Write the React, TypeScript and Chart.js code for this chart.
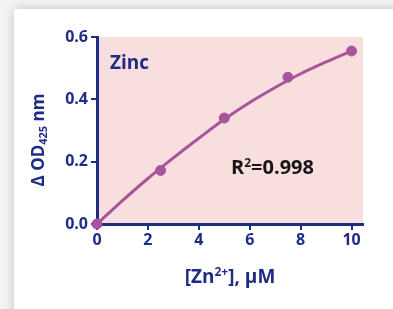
import React, { useEffect, useRef } from "react";
import { Chart, registerables } from "chart.js";

Chart.register(...registerables);

const concentrations = [0, 2.5, 5, 7.5, 10];
const deltaOD = [0, 0.172, 0.34, 0.471, 0.555];
const fitX = [0, 1, 2, 3, 4, 5, 6, 7, 8, 9, 10];
const fitY = [0, 0.075, 0.146, 0.212, 0.275, 0.336, 0.39, 0.438, 0.482, 0.52, 0.555];
const xTicks = [0, 2, 4, 6, 8, 10];
const yTicks = [0, 0.2, 0.4, 0.6];

const NAVY = "#1f2c85";
const PURPLE = "#a8559e";
const PINK = "#f9dede";
const FONT = "'Open Sans', sans-serif";

const decorPlugin = {
  id: "decor",
  beforeDraw(chart: any) {
    const { ctx, chartArea } = chart;
    ctx.save();
    ctx.fillStyle = PINK;
    ctx.fillRect(chartArea.left, chartArea.top, chartArea.right - chartArea.left, chartArea.bottom - chartArea.top);
    ctx.restore();
  },
  afterDraw(chart: any) {
    const { ctx } = chart;
    ctx.save();
    ctx.textBaseline = "alphabetic";
    // Zinc label
    ctx.fillStyle = NAVY;
    ctx.font = `bold 19px ${FONT}`;
    ctx.textAlign = "left";
    ctx.fillText("Zinc", 110, 69);

    // R^2 label
    ctx.fillStyle = "#161616";
    ctx.font = `bold 20px ${FONT}`;
    let x = 231;
    const yb = 174;
    ctx.fillText("R", x, yb);
    x += ctx.measureText("R").width;
    ctx.font = `bold 12px ${FONT}`;
    ctx.fillText("2", x, yb - 7);
    x += ctx.measureText("2").width;
    ctx.font = `bold 20px ${FONT}`;
    ctx.fillText("=0.998", x, yb);

    // X axis title
    ctx.fillStyle = NAVY;
    const parts: [string, number, number][] = [
      ["[Zn", 19, 0],
      ["2+", 12, -7],
      ["], µM", 19, 0],
    ];
    let total = 0;
    for (const [t, s] of parts) {
      ctx.font = `bold ${s}px ${FONT}`;
      total += ctx.measureText(t).width;
    }
    x = 230 - total / 2;
    for (const [t, s, dy] of parts) {
      ctx.font = `bold ${s}px ${FONT}`;
      ctx.fillText(t, x, 283 + dy);
      x += ctx.measureText(t).width;
    }

    // Y axis title (rotated)
    const yparts: [string, number, number][] = [
      ["Δ OD", 17, 0],
      ["425", 11, 3],
      [" nm", 17, 0],
    ];
    total = 0;
    for (const [t, s] of yparts) {
      ctx.font = `bold ${s}px ${FONT}`;
      total += ctx.measureText(t).width;
    }
    ctx.translate(44, 140);
    ctx.rotate(-Math.PI / 2);
    x = -total / 2;
    for (const [t, s, dy] of yparts) {
      ctx.font = `bold ${s}px ${FONT}`;
      ctx.fillText(t, x, dy);
      x += ctx.measureText(t).width;
    }
    ctx.restore();
  },
};

export default function App() {
  const ref = useRef<HTMLCanvasElement>(null);
  useEffect(() => {
    if (!ref.current) return;
    const chart = new Chart(ref.current, {
      type: "scatter",
      data: {
        datasets: [
          {
            label: "fit",
            data: fitX.map((v, i) => ({ x: v, y: fitY[i] })),
            showLine: true,
            borderColor: PURPLE,
            borderWidth: 3,
            pointRadius: 0,
            cubicInterpolationMode: "monotone",
            clip: false as any,
          },
          {
            label: "Zinc",
            data: concentrations.map((v, i) => ({ x: v, y: deltaOD[i] })),
            showLine: false,
            backgroundColor: PURPLE,
            borderColor: PURPLE,
            pointRadius: 5,
            clip: false as any,
          },
        ],
      },
      options: {
        animation: false,
        responsive: false,
        layout: { padding: { left: 0, right: 30, top: 37, bottom: 0 } },
        plugins: { legend: { display: false }, tooltip: { enabled: false } },
        scales: {
          x: {
            type: "linear",
            min: 0,
            max: 10.45,
            z: 1,
            afterBuildTicks: (s: any) => {
              s.ticks = xTicks.map((v) => ({ value: v }));
            },
            afterFit: (s: any) => {
              s.height = 85;
            },
            border: { display: true, color: NAVY, width: 3 },
            grid: { drawOnChartArea: false, drawTicks: true, tickLength: 6, color: NAVY, lineWidth: 2 },
            ticks: {
              color: NAVY,
              font: { family: FONT, size: 16, weight: "bold" },
              padding: 1,
              maxRotation: 0,
            },
          },
          y: {
            type: "linear",
            min: 0,
            max: 0.6,
            z: 1,
            afterBuildTicks: (s: any) => {
              s.ticks = yTicks.map((v) => ({ value: v }));
            },
            afterFit: (s: any) => {
              s.width = 97;
            },
            border: { display: true, color: NAVY, width: 3 },
            grid: { drawOnChartArea: false, drawTicks: true, tickLength: 6, color: NAVY, lineWidth: 2 },
            ticks: {
              color: NAVY,
              font: { family: FONT, size: 16, weight: "bold" },
              padding: 3,
              callback: (v: any) => Number(v).toFixed(1),
            },
          },
        },
      },
      plugins: [decorPlugin],
    });
    return () => chart.destroy();
  }, []);

  return (
    <div style={{ position: "fixed", left: 0, top: 0, width: 393, height: 309, background: "#f3f3f3", overflow: "hidden" }}>
      <div
        style={{
          position: "absolute",
          left: 14,
          top: 9,
          width: 420,
          height: 330,
          background: "#ffffff",
          boxShadow: "0 0 10px rgba(0,0,0,0.2)",
        }}
      />
      <canvas ref={ref} width={393} height={309} style={{ position: "absolute", left: 0, top: 0, width: 393, height: 309 }} />
    </div>
  );
}
